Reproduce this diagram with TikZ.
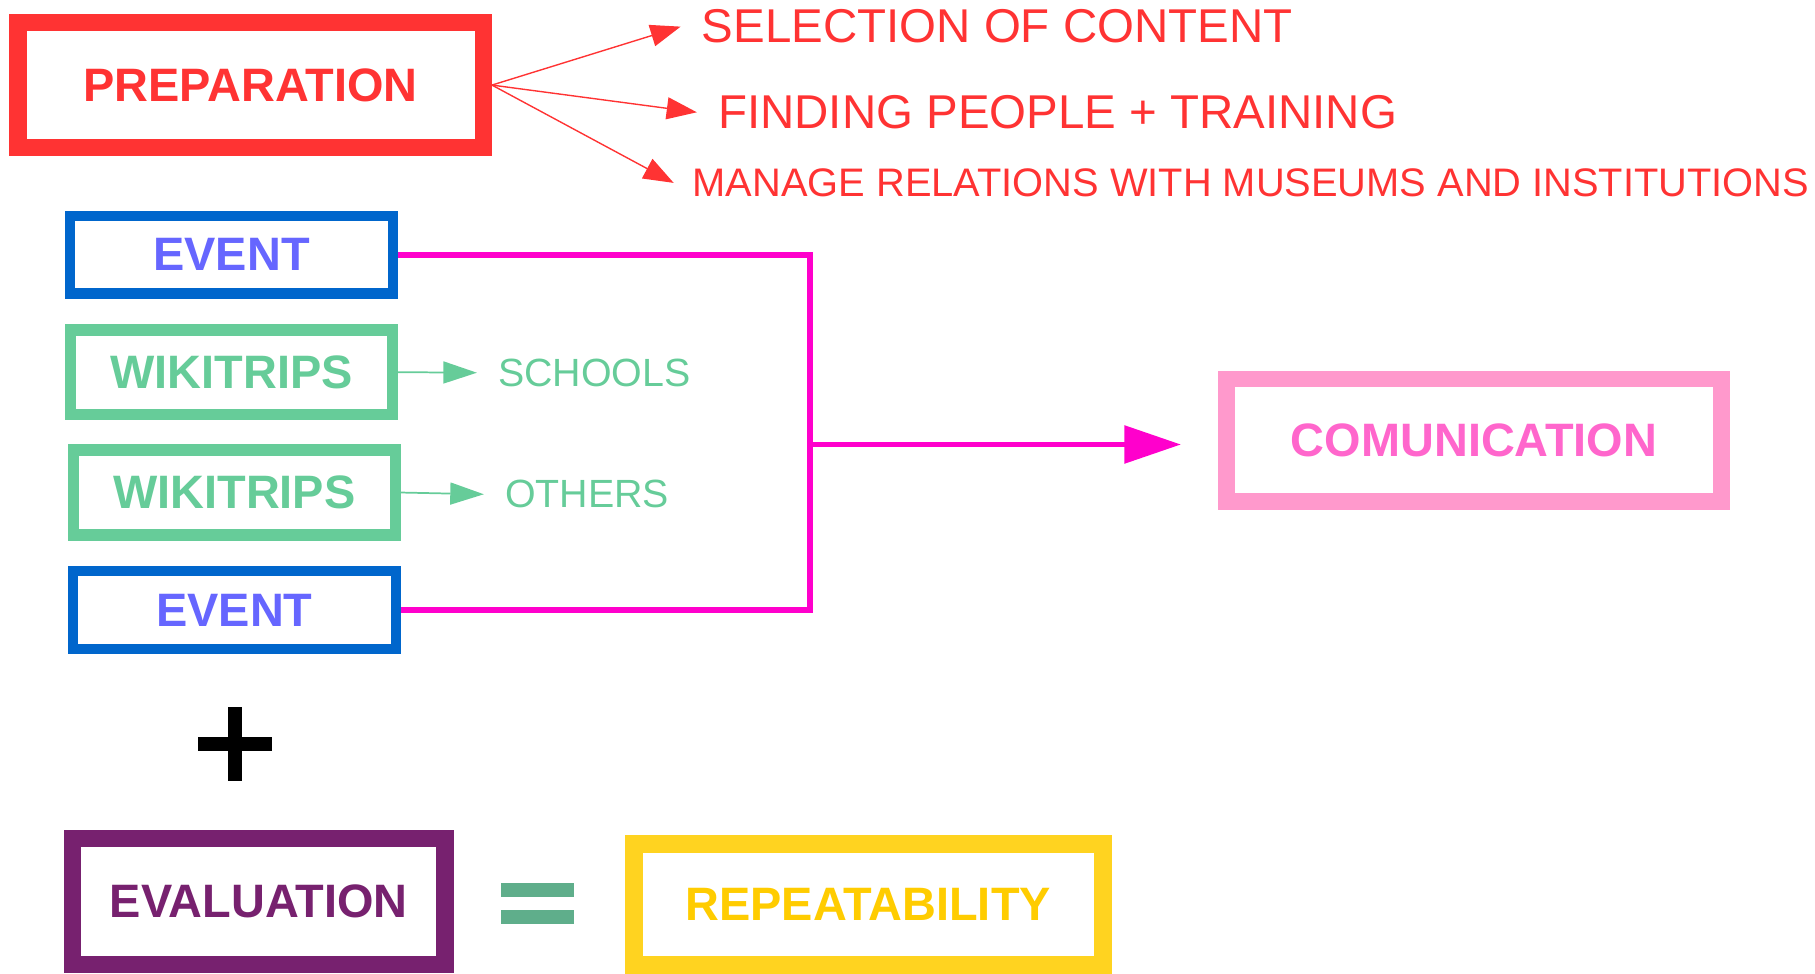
\documentclass[tikz,border=0pt]{standalone}
\usepackage{fontspec}
\setmainfont{Liberation Sans}
\usepackage{xcolor}
\usetikzlibrary{shapes,arrows.meta,positioning}

\definecolor{prepred}{HTML}{FF3333}
\definecolor{eventblue}{HTML}{0066CC}
\definecolor{eventtext}{HTML}{6666FF}
\definecolor{tripgreen}{HTML}{66CC99}
\definecolor{linkpink}{HTML}{FF00CC}
\definecolor{commborder}{HTML}{FF99CC}
\definecolor{commtext}{HTML}{FF66CC}
\definecolor{evalpurple}{HTML}{77216F}
\definecolor{repborder}{HTML}{FFD320}
\definecolor{reptext}{HTML}{FFCC00}
\definecolor{eqgreen}{HTML}{5FAE8B}

\begin{document}
\begin{tikzpicture}[x=0.5pt, y=-0.5pt, node distance=50.75pt, auto]
    \tikzstyle{stagebox} = [rectangle, fill=white, text centered, font=\fontsize{20.25}{24}\selectfont\bfseries]
    \tikzstyle{prepbox} = [stagebox, draw=prepred, text=prepred, line width=7.5pt, minimum width=201pt, minimum height=54pt]
    \tikzstyle{eventbox} = [stagebox, draw=eventblue, text=eventtext, line width=4.5pt, minimum width=139.5pt, minimum height=33.5pt]
    \tikzstyle{tripbox} = [stagebox, draw=tripgreen, text=tripgreen, line width=5pt, minimum width=139pt, minimum height=36.5pt]
    \tikzstyle{commbox} = [stagebox, draw=commborder, text=commtext, line width=7.25pt, minimum width=214pt, minimum height=53pt]
    \tikzstyle{evalbox} = [stagebox, draw=evalpurple, text=evalpurple, line width=7.5pt, minimum width=161pt, minimum height=54.5pt]
    \tikzstyle{repbox} = [stagebox, draw=repborder, text=reptext, line width=7.75pt, minimum width=202.5pt, minimum height=52pt]
    \tikzstyle{note} = [anchor=west, inner xsep=9pt, inner ysep=0pt]
    \tikzstyle{redarrow} = [draw=prepred, line width=0.6pt, -{Triangle[length=13pt,width=9.5pt]}]
    \tikzstyle{greenarrow} = [draw=tripgreen, line width=0.75pt, -{Triangle[length=14.5pt,width=9.5pt]}]
    \tikzstyle{linkline} = [draw=linkpink, line width=2.5pt]

    \useasboundingbox (0,0) rectangle (1568,841);

    % Preparation and its tasks
    \node [prepbox] (prep) at (216.5,73.5) {PREPARATION};
    \node [note, text=prepred, font=\fontsize{20.5}{24}\selectfont] (selection) at (588,23) {SELECTION OF CONTENT};
    \node [note, text=prepred, font=\fontsize{20.5}{24}\selectfont] (people) at (602,97) {FINDING PEOPLE + TRAINING};
    \node [note, text=prepred, font=\fontsize{17.2}{20}\selectfont, inner xsep=8pt] (relations) at (582,158) {MANAGE RELATIONS WITH MUSEUMS AND INSTITUTIONS};

    % Activities - stacked
    \node [eventbox] (event1) at (200,220) {EVENT};
    \node [tripbox, below of=event1] (trip1) {WIKITRIPS};
    \node [tripbox, below of=trip1, node distance=52pt, xshift=1.25pt] (trip2) {WIKITRIPS};
    \node [eventbox, below of=trip2] (event2) {EVENT};

    \node [note, text=tripgreen, font=\fontsize{17}{20}\selectfont] (schools) at (412,322) {SCHOOLS};
    \node [note, text=tripgreen, font=\fontsize{17}{20}\selectfont] (others) at (418,427) {OTHERS};

    % Comunication
    \node [commbox] (comm) at (1273.5,380.5) {COMUNICATION};
    \coordinate (join) at (700,384);

    % Evaluation - bottom
    \node [evalbox] (eval) at (223.5,779) {EVALUATION};
    \node [repbox] (rep) at (750,781.5) {REPEATABILITY};

    % Plus and equals
    \fill [black] (171,637) rectangle (235,649);
    \fill [black] (197,611) rectangle (209,675);
    \fill [eqgreen] (433,763) rectangle (496,775);
    \fill [eqgreen] (433,786) rectangle (496,798);

    % Connections
    \draw [redarrow] (prep.east) -- (selection.west);
    \draw [redarrow] (prep.east) -- (people.west);
    \draw [redarrow] (prep.east) -- (relations.west);

    \draw [greenarrow] (trip1.east) -- (schools.west);
    \draw [greenarrow] (trip2.east) -- (others.west);

    \draw [linkline] (event1.east) -| (join);
    \draw [linkline] (event2.east) -| (join);
    \draw [linkline, -{Triangle[length=24.5pt,width=16pt]}, shorten >=16pt] (join) -- (join -| comm.west);
\end{tikzpicture}
\end{document}
